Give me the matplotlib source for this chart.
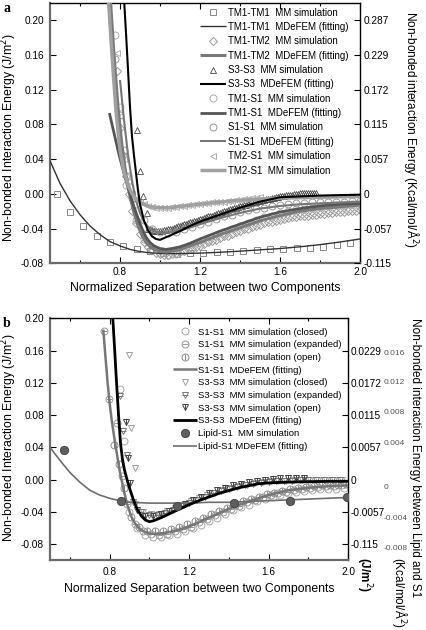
import matplotlib
matplotlib.use("Agg")
import matplotlib.pyplot as plt
from matplotlib.legend_handler import HandlerTuple
from matplotlib.ticker import FixedLocator, FuncFormatter

plt.rcParams['font.family'] = ['Liberation Sans', 'DejaVu Sans']

# ------------------------- DATA: panel a -------------------------
# TM1-TM1
a_tm1tm1_sim_x = [0.483, 0.55, 0.617, 0.683, 0.75, 0.817, 0.883, 0.95, 1.017, 1.083, 1.15, 1.217,
                  1.283, 1.35, 1.417, 1.483, 1.55, 1.617, 1.683, 1.75, 1.817, 1.883, 1.95]
a_tm1tm1_sim_y = [0.0, -0.0215, -0.0375, -0.049, -0.056, -0.060, -0.063, -0.066, -0.068, -0.069, -0.068,
                  -0.068, -0.067, -0.0665, -0.066, -0.065, -0.064, -0.063, -0.0625, -0.062, -0.061, -0.059, -0.057]
a_tm1tm1_fit_x = [0.45, 0.5, 0.55, 0.6, 0.65, 0.7, 0.75, 0.8, 0.85, 0.9, 0.95, 1.0, 1.05, 1.1, 1.2, 1.3,
                  1.4, 1.5, 1.6, 1.7, 1.8, 1.9, 2.0]
a_tm1tm1_fit_y = [0.038, 0.012, -0.008, -0.024, -0.037, -0.047, -0.055, -0.060, -0.064, -0.0665, -0.068,
                  -0.0685, -0.0688, -0.0688, -0.0683, -0.0673, -0.066, -0.0645, -0.063, -0.061, -0.0585, -0.0555, -0.052]

# TM1-TM2
a_tm1tm2_sim_x = [0.783, 0.80, 0.815, 0.83, 0.845,
                  0.86, 0.88, 0.90, 0.92, 0.94, 0.96, 0.98, 1.00, 1.02, 1.04, 1.06, 1.08, 1.10, 1.12, 1.14,
                  1.16, 1.18, 1.20, 1.22, 1.24, 1.26, 1.28, 1.30, 1.32, 1.34, 1.36, 1.38, 1.40, 1.42, 1.44,
                  1.46, 1.48, 1.50, 1.52, 1.54, 1.56, 1.58, 1.60, 1.62, 1.64, 1.66, 1.68, 1.70, 1.72, 1.74,
                  1.76, 1.78, 1.80, 1.82, 1.84, 1.86, 1.88, 1.90, 1.92, 1.94, 1.96, 1.98, 2.00]
a_tm1tm2_sim_y = [0.141, 0.076, 0.045, 0.020, 0.0,
                  -0.020, -0.034, -0.046, -0.055, -0.061, -0.065, -0.068, -0.069, -0.070, -0.070, -0.069,
                  -0.068, -0.067, -0.066, -0.064, -0.063, -0.061, -0.060, -0.058, -0.056, -0.054, -0.053,
                  -0.051, -0.049, -0.048, -0.046, -0.044, -0.043, -0.041, -0.040, -0.038, -0.037, -0.036,
                  -0.034, -0.033, -0.032, -0.031, -0.030, -0.029, -0.028, -0.027, -0.027, -0.026, -0.025,
                  -0.025, -0.024, -0.024, -0.023, -0.023, -0.022, -0.022, -0.021, -0.021, -0.021, -0.020,
                  -0.020, -0.020, -0.019]
a_tm1tm2_fit_x = [0.752, 0.77, 0.79, 0.81, 0.83, 0.85, 0.87, 0.89, 0.91, 0.93, 0.95, 0.97, 1.0, 1.03, 1.06,
                  1.1, 1.15, 1.2, 1.3, 1.4, 1.5, 1.6, 1.7, 1.8, 1.9, 2.0]
a_tm1tm2_fit_y = [0.224, 0.16, 0.10, 0.055, 0.022, -0.003, -0.022, -0.037, -0.048, -0.056, -0.061, -0.064,
                  -0.066, -0.067, -0.066, -0.064, -0.060, -0.056, -0.047, -0.039, -0.031, -0.025, -0.020,
                  -0.017, -0.015, -0.013]

# S3-S3
a_s3s3_sim_x = [0.887, 0.90, 0.917, 0.933,
                0.94, 0.95, 0.96, 0.97, 0.98, 0.99, 1.00, 1.01, 1.02, 1.03, 1.04, 1.05, 1.06, 1.07, 1.08,
                1.09, 1.10, 1.11, 1.12, 1.13, 1.14, 1.15, 1.16, 1.17, 1.18, 1.19, 1.20, 1.21, 1.22, 1.23,
                1.24, 1.25, 1.26, 1.27, 1.28, 1.29, 1.30, 1.31, 1.32, 1.33, 1.34, 1.35, 1.36, 1.37, 1.38,
                1.39, 1.40, 1.41, 1.42, 1.43, 1.44, 1.45, 1.46, 1.47, 1.48, 1.49, 1.50, 1.51, 1.52, 1.53,
                1.54, 1.55, 1.56, 1.57, 1.58, 1.59, 1.60, 1.61, 1.62, 1.63, 1.64, 1.65, 1.66, 1.67, 1.68,
                1.69, 1.70, 1.71, 1.72, 1.73, 1.74, 1.75, 1.76, 1.77, 1.78]
a_s3s3_sim_y = [0.073, 0.026, -0.003, -0.022,
                -0.040, -0.041, -0.042, -0.0425, -0.043, -0.043, -0.043, -0.0425, -0.042, -0.0415, -0.041,
                -0.0405, -0.040, -0.039, -0.038, -0.0375, -0.037, -0.036, -0.035, -0.0345, -0.034, -0.033,
                -0.032, -0.0315, -0.031, -0.030, -0.029, -0.0285, -0.028, -0.027, -0.026, -0.0255, -0.025,
                -0.024, -0.023, -0.0225, -0.022, -0.021, -0.020, -0.0195, -0.019, -0.018, -0.017, -0.0165,
                -0.016, -0.015, -0.014, -0.0135, -0.013, -0.0125, -0.012, -0.011, -0.010, -0.0095, -0.009,
                -0.0085, -0.008, -0.0075, -0.007, -0.0065, -0.006, -0.0055, -0.005, -0.0045, -0.004,
                -0.0035, -0.003, -0.0025, -0.002, -0.0018, -0.0015, -0.0012, -0.001, -0.0005, 0.0, 0.0003,
                0.0005, 0.0008, 0.001, 0.001, 0.001, 0.0012, 0.0015, 0.0015, 0.0015]
a_s3s3_fit_x = [0.82, 0.83, 0.84, 0.85, 0.86, 0.87, 0.88, 0.89, 0.90, 0.92, 0.94, 0.96, 0.98, 1.0, 1.05, 1.1,
                1.15, 1.2, 1.3, 1.4, 1.5, 1.6, 1.7, 1.8, 1.9, 2.0]
a_s3s3_fit_y = [0.225, 0.185, 0.143, 0.100, 0.066, 0.044, 0.024, 0.004, -0.012, -0.031, -0.042, -0.049,
                -0.052, -0.053, -0.048, -0.043, -0.037, -0.032, -0.024, -0.016, -0.009, -0.004, -0.003,
                -0.002, -0.0015, -0.001]

# TM1-S1
a_tm1s1_sim_x = [0.775, 0.80, 0.81, 0.83,
                 0.88, 0.92, 0.96, 1.00, 1.04, 1.08, 1.12, 1.16, 1.20, 1.24, 1.28, 1.32, 1.36, 1.40, 1.44,
                 1.48, 1.52, 1.56, 1.60, 1.64, 1.68, 1.72, 1.76, 1.80, 1.84, 1.88, 1.92, 1.96, 2.00]
a_tm1s1_sim_y = [0.183, 0.100, 0.043, 0.010,
                 -0.030, -0.052, -0.063, -0.068, -0.070, -0.069, -0.066, -0.062, -0.057, -0.053, -0.049,
                 -0.045, -0.041, -0.037, -0.034, -0.030, -0.027, -0.025, -0.022, -0.020, -0.018, -0.017,
                 -0.016, -0.015, -0.014, -0.013, -0.013, -0.012, -0.012]
a_tm1s1_fit_x = [0.747, 0.77, 0.79, 0.81, 0.83, 0.85, 0.87, 0.89, 0.91, 0.93, 0.95, 0.97, 1.0, 1.03, 1.06,
                 1.1, 1.15, 1.2, 1.3, 1.4, 1.5, 1.6, 1.7, 1.8, 1.9, 2.0]
a_tm1s1_fit_y = [0.093, 0.070, 0.050, 0.032, 0.015, 0.0, -0.015, -0.028, -0.040, -0.050, -0.056, -0.060,
                 -0.063, -0.064, -0.063, -0.061, -0.057, -0.052, -0.043, -0.035, -0.027, -0.021, -0.017,
                 -0.014, -0.012, -0.011]

# S1-S1
a_s1s1_sim_x = [0.775, 0.80, 0.82, 0.84, 0.86,
                0.88, 0.92, 0.96, 1.00, 1.04, 1.08, 1.12, 1.16, 1.20, 1.24, 1.28, 1.32, 1.36, 1.40, 1.44,
                1.48, 1.52, 1.56, 1.60, 1.64, 1.68, 1.72, 1.76, 1.80, 1.84, 1.88, 1.92, 1.96, 2.00]
a_s1s1_sim_y = [0.155, 0.091, 0.050, 0.020, -0.005,
                -0.012, -0.030, -0.040, -0.044, -0.045, -0.044, -0.041, -0.038, -0.035, -0.032, -0.029,
                -0.026, -0.024, -0.021, -0.019, -0.017, -0.016, -0.014, -0.013, -0.012, -0.011, -0.011,
                -0.010, -0.010, -0.009, -0.009, -0.009, -0.008, -0.008]
a_s1s1_fit_x = [0.80, 0.82, 0.84, 0.86, 0.88, 0.90, 0.92, 0.94, 0.97, 1.0, 1.03, 1.06, 1.1, 1.15, 1.2, 1.3,
                1.4, 1.5, 1.6, 1.7, 1.8, 1.9, 2.0]
a_s1s1_fit_y = [0.131, 0.085, 0.045, 0.015, -0.008, -0.022, -0.032, -0.038, -0.043, -0.045, -0.045, -0.044,
                -0.042, -0.039, -0.035, -0.028, -0.022, -0.017, -0.014, -0.012, -0.011, -0.010, -0.009]

# TM2-S1
a_tm2s1_sim_x = [0.783, 0.80, 0.82, 0.84, 0.86,
                 0.88, 0.90, 0.92, 0.94, 0.96, 0.98, 1.00, 1.02, 1.04, 1.06, 1.08, 1.10, 1.12, 1.14, 1.16,
                 1.18, 1.20, 1.22, 1.24, 1.26, 1.28, 1.30, 1.32, 1.34, 1.36, 1.38, 1.40, 1.42, 1.44, 1.46,
                 1.48, 1.50]
a_tm2s1_sim_y = [0.162, 0.090, 0.040, 0.015, 0.0,
                 -0.006, -0.010, -0.012, -0.014, -0.015, -0.016, -0.016, -0.016, -0.016, -0.015, -0.015,
                 -0.014, -0.014, -0.013, -0.013, -0.012, -0.012, -0.011, -0.011, -0.010, -0.010, -0.009,
                 -0.009, -0.008, -0.008, -0.007, -0.007, -0.006, -0.006, -0.005, -0.005, -0.004]
a_tm2s1_fit_x = [0.742, 0.76, 0.78, 0.80, 0.82, 0.84, 0.86, 0.88, 0.90, 0.95, 1.0, 1.05, 1.1, 1.2, 1.3, 1.4,
                 1.5, 1.6, 1.7, 1.8, 1.9, 2.0]
a_tm2s1_fit_y = [0.224, 0.16, 0.095, 0.050, 0.025, 0.010, 0.0, -0.006, -0.010, -0.015, -0.016, -0.016,
                 -0.0145, -0.012, -0.0095, -0.0075, -0.006, -0.005, -0.0045, -0.004, -0.0035, -0.003]

a_left_ticks = [-0.08, -0.04, 0.00, 0.04, 0.08, 0.12, 0.16, 0.20]
a_right_labels = ['-0.115', '-0.057', '0', '0.057', '0.115', '0.172', '0.229', '0.287']

# ------------------------- DATA: panel b -------------------------
b_s1_closed_x = [0.853, 0.874,
                 0.90, 0.94, 0.98, 1.02, 1.06, 1.10, 1.14, 1.18, 1.22, 1.26, 1.30, 1.34, 1.38, 1.42, 1.46,
                 1.50, 1.54, 1.58, 1.62, 1.66, 1.70, 1.74, 1.78, 1.82, 1.86, 1.90, 1.94, 1.98]
b_s1_closed_y = [0.113, 0.048,
                 -0.040, -0.060, -0.068, -0.071, -0.071, -0.069, -0.067, -0.064, -0.060, -0.056, -0.051,
                 -0.047, -0.042, -0.038, -0.034, -0.031, -0.027, -0.024, -0.022, -0.019, -0.017, -0.015,
                 -0.014, -0.013, -0.012, -0.011, -0.011, -0.010]
b_s1_expanded_x = [0.772, 0.797, 0.839, 0.86,
                   0.89, 0.93, 0.97, 1.01, 1.05, 1.09, 1.13, 1.17, 1.21, 1.25, 1.29, 1.33, 1.37, 1.41, 1.45,
                   1.49, 1.53, 1.57, 1.61, 1.65, 1.69, 1.73, 1.77, 1.81, 1.85, 1.89, 1.93, 1.97]
b_s1_expanded_y = [0.184, 0.100, 0.070, 0.005,
                   -0.030, -0.055, -0.064, -0.067, -0.068, -0.067, -0.064, -0.061, -0.058, -0.053, -0.049,
                   -0.044, -0.040, -0.036, -0.032, -0.028, -0.025, -0.022, -0.019, -0.017, -0.015, -0.013,
                   -0.011, -0.010, -0.009, -0.008, -0.008, -0.007]
b_s1_open_x = [0.822, 0.845, 0.87,
               0.91, 0.95, 0.99, 1.03, 1.07, 1.11, 1.15, 1.19, 1.23, 1.27, 1.31, 1.35, 1.39, 1.43, 1.47,
               1.51, 1.55, 1.59, 1.63, 1.67, 1.71, 1.75, 1.79, 1.83, 1.87, 1.91, 1.95, 1.99]
b_s1_open_y = [0.043, 0.020, -0.010,
               -0.046, -0.058, -0.063, -0.064, -0.063, -0.061, -0.058, -0.055, -0.051, -0.047, -0.043,
               -0.039, -0.035, -0.031, -0.027, -0.024, -0.021, -0.018, -0.016, -0.014, -0.012, -0.010,
               -0.009, -0.008, -0.007, -0.006, -0.006, -0.005]
b_s1_fit_x = [0.768, 0.78, 0.79, 0.80, 0.81, 0.82, 0.83, 0.84, 0.85, 0.87, 0.89, 0.91, 0.93, 0.95, 0.98,
              1.01, 1.05, 1.1, 1.15, 1.2, 1.3, 1.4, 1.5, 1.6, 1.7, 1.8, 1.9, 2.0]
b_s1_fit_y = [0.186, 0.150, 0.120, 0.095, 0.075, 0.058, 0.042, 0.027, 0.012, -0.012, -0.032, -0.046,
              -0.055, -0.061, -0.065, -0.067, -0.067, -0.065, -0.062, -0.058, -0.047, -0.036, -0.027,
              -0.019, -0.013, -0.010, -0.008, -0.007]

b_s3_closed_x = [0.899, 0.906, 0.928,
                 0.93, 0.97, 1.01, 1.05, 1.09, 1.13, 1.17, 1.21, 1.25, 1.29, 1.33, 1.37, 1.41, 1.45, 1.49,
                 1.53, 1.57, 1.61, 1.65, 1.69, 1.73, 1.77, 1.81, 1.85, 1.89, 1.93, 1.97]
b_s3_closed_y = [0.154, 0.064, 0.0145,
                 -0.030, -0.040, -0.043, -0.042, -0.039, -0.035, -0.031, -0.027, -0.023, -0.019, -0.016,
                 -0.013, -0.010, -0.008, -0.006, -0.004, -0.003, -0.002, -0.001, -0.001, 0.0, 0.0, 0.0,
                 0.0, 0.0, 0.0, 0.0]
b_s3_expanded_x = [0.850, 0.869, 0.89,
                   0.92, 0.96, 1.00, 1.04, 1.08, 1.12, 1.16, 1.20, 1.24, 1.28, 1.32, 1.36, 1.40, 1.44,
                   1.48, 1.52, 1.56, 1.60, 1.64, 1.68, 1.72, 1.76, 1.80, 1.84, 1.88, 1.92, 1.96]
b_s3_expanded_y = [0.104, 0.060, 0.030,
                   -0.028, -0.040, -0.044, -0.044, -0.041, -0.037, -0.033, -0.029, -0.025, -0.021, -0.017,
                   -0.014, -0.011, -0.009, -0.007, -0.005, -0.004, -0.003, -0.002, -0.001, -0.001, 0.0,
                   0.0, 0.0, 0.0, 0.0, 0.0]
b_s3_open_x = [0.882, 0.894, 0.903,
               0.94, 0.98, 1.02, 1.06, 1.10, 1.14, 1.18, 1.22, 1.26, 1.30, 1.34, 1.38, 1.42, 1.46, 1.50,
               1.54, 1.58, 1.62, 1.66, 1.70, 1.74, 1.78]
b_s3_open_y = [0.072, 0.027, -0.004,
               -0.038, -0.045, -0.045, -0.043, -0.039, -0.034, -0.030, -0.025, -0.021, -0.017, -0.013,
               -0.010, -0.007, -0.005, -0.003, -0.001, 0.0, 0.001, 0.002, 0.002, 0.002, 0.002]
b_s3_fit_x = [0.815, 0.825, 0.835, 0.845, 0.855, 0.865, 0.875, 0.89, 0.905, 0.92, 0.94, 0.96, 0.98, 1.0,
              1.02, 1.06, 1.12, 1.2, 1.26, 1.35, 1.45, 1.55, 1.6, 1.7, 1.8, 1.9, 2.0]
b_s3_fit_y = [0.205, 0.163, 0.120, 0.080, 0.045, 0.025, 0.012, -0.002, -0.014, -0.025, -0.037, -0.045,
              -0.050, -0.052, -0.051, -0.047, -0.040, -0.031, -0.025, -0.017, -0.010, -0.005, -0.004,
              -0.003, -0.0025, -0.002, -0.002]

b_lipid_sim_x = [0.57, 0.855, 1.14, 1.425, 1.71, 1.995]
b_lipid_sim_y = [0.037, -0.027, -0.033, -0.029, -0.026, -0.0215]
b_lipid_fit_x = [0.5, 0.55, 0.6, 0.65, 0.7, 0.75, 0.8, 0.85, 0.9, 1.0, 1.1, 1.2, 1.3, 1.4, 1.5, 1.6, 1.7,
                 1.8, 1.9, 2.0]
b_lipid_fit_y = [0.040, 0.024, 0.009, -0.003, -0.013, -0.019, -0.023, -0.026, -0.028, -0.029, -0.029,
                 -0.029, -0.028, -0.028, -0.027, -0.026, -0.025, -0.024, -0.023, -0.022]

b_left_ticks = [-0.08, -0.04, 0.00, 0.04, 0.08, 0.12, 0.16, 0.20]
b_right_ticks = [-0.08, -0.04, 0.00, 0.04, 0.08, 0.12, 0.16]
b_right_labels = ['-0.115', '-0.0057', '0', '0.0057', '0.0115', '0.0172', '0.0229']
b_third_ticks = [-0.0839, -0.0463, -0.0087, 0.0467, 0.0847, 0.1219, 0.1575]
b_third_labels = ['-0.008', '-0.004', '0', '0.004', '0.008', '0.012', '0.016']

# ------------------------- FIGURE -------------------------
W, H = 426, 630
fig = plt.figure(figsize=(W / 100, H / 100), dpi=100)

def box(l, r, t, b):
    return [l / W, 1 - b / H, (r - l) / W, (b - t) / H]

axA = fig.add_axes(box(50, 360, 2.7, 263.3))
axB = fig.add_axes(box(50, 348, 318.3, 560.4))

MS = 5.0
MEW = 0.7
TICK_FS = 7.3

def style_axes(ax, xlim, ylim, yticks, xpad, xlabelpad):
    ax.set_xlim(*xlim)
    ax.set_ylim(*ylim)
    ax.xaxis.set_major_locator(FixedLocator([0.8, 1.2, 1.6, 2.0]))
    ax.xaxis.set_minor_locator(FixedLocator([0.6, 1.0, 1.4, 1.8]))
    ax.xaxis.set_major_formatter(FuncFormatter(lambda v, p: '%.1f' % v))
    ax.yaxis.set_major_locator(FixedLocator(yticks))
    ax.yaxis.set_major_formatter(FuncFormatter(lambda v, p: '%.2f' % v))
    ax.tick_params(axis='both', which='major', direction='in', length=4, width=0.8, labelsize=TICK_FS,
                   top=True, right=False)
    ax.tick_params(axis='x', which='minor', direction='in', length=2.5, width=0.8, top=True)
    ax.tick_params(axis='x', which='major', pad=xpad)
    ax.tick_params(axis='y', pad=4.3)
    for s in ['left', 'bottom']:
        ax.spines[s].set_color('#6a6a6a')
        ax.spines[s].set_linewidth(1.6)
    for s in ['top', 'right']:
        ax.spines[s].set_color('black')
        ax.spines[s].set_linewidth(1.0)
    ax.set_xlabel('Normalized Separation between two Components', fontsize=8.8, labelpad=xlabelpad)

style_axes(axA, (0.45, 2.0), (-0.08, 0.22), a_left_ticks, 3, 3)
style_axes(axB, (0.5, 2.0), (-0.10, 0.20), b_left_ticks, 4.5, 4.5)

fig.text(9 / W, 1 - 138 / H, 'Non-bonded Interaction Energy (J/m$^2$)', rotation=90,
         ha='center', va='center', fontsize=8.8)
fig.text(9 / W, 1 - 438 / H, 'Non-bonded Interaction Energy (J/m$^2$)', rotation=90,
         ha='center', va='center', fontsize=8.8)

def sim(ax, x, y, marker, color, ms=MS, mew=MEW, z=2):
    return ax.plot(x, y, ls='none', marker=marker, mfc='none', mec=color, ms=ms, mew=mew, zorder=z)[0]

def fit(ax, x, y, color, lw, z=3):
    return ax.plot(x, y, color=color, lw=lw, zorder=z, solid_capstyle='butt')[0]

# ---- panel a ----
h = []
h.append(sim(axA, a_tm1tm1_sim_x, a_tm1tm1_sim_y, 's', '#8a8a8a'))
h.append(fit(axA, a_tm1tm1_fit_x, a_tm1tm1_fit_y, '#333333', 1.0))
h.append(sim(axA, a_tm1tm2_sim_x, a_tm1tm2_sim_y, 'D', '#9a9a9a', ms=4.2))
h.append(fit(axA, a_tm1tm2_fit_x, a_tm1tm2_fit_y, '#7a7a7a', 2.2))
h.append(sim(axA, a_s3s3_sim_x, a_s3s3_sim_y, '^', '#4a4a4a', mew=0.6))
h.append(fit(axA, a_s3s3_fit_x, a_s3s3_fit_y, 'black', 1.5, z=4))
h.append(sim(axA, a_tm1s1_sim_x, a_tm1s1_sim_y, 'o', '#aaaaaa'))
h.append(fit(axA, a_tm1s1_fit_x, a_tm1s1_fit_y, '#555555', 2.0))
h.append(sim(axA, a_s1s1_sim_x, a_s1s1_sim_y, 'o', '#999999'))
h.append(fit(axA, a_s1s1_fit_x, a_s1s1_fit_y, '#777777', 1.5))
h.append(sim(axA, a_tm2s1_sim_x, a_tm2s1_sim_y, '<', '#b0b0b0'))
h.append(fit(axA, a_tm2s1_fit_x, a_tm2s1_fit_y, '#a0a0a0', 2.5))
labels_a = ['TM1-TM1  MM simulation', 'TM1-TM1  MDeFEM (fitting)',
            'TM1-TM2  MM simulation', 'TM1-TM2  MDeFEM (fitting)',
            'S3-S3  MM simulation', 'S3-S3  MDeFEM (fitting)',
            'TM1-S1  MM simulation', 'TM1-S1  MDeFEM (fitting)',
            'S1-S1  MM simulation', 'S1-S1  MDeFEM (fitting)',
            'TM2-S1  MM simulation', 'TM2-S1  MM simulation']
axA.legend(h, labels_a, loc='upper left', bbox_to_anchor=(200 / W, 1 - 7.5 / H),
           bbox_transform=fig.transFigure, frameon=False, fontsize=7.0, handlelength=2.7,
           handletextpad=0.2, labelspacing=0.45, borderpad=0, borderaxespad=0)

axA2 = axA.twinx()
axA2.set_ylim(axA.get_ylim())
axA2.yaxis.set_major_locator(FixedLocator(a_left_ticks))
axA2.set_yticklabels(a_right_labels)
axA2.tick_params(axis='y', direction='in', length=4, width=0.8, labelsize=TICK_FS, pad=2.5)
for s in axA2.spines.values():
    s.set_visible(False)

fig.text(412 / W, 1 - 129 / H, 'Non-bonded interaction Energy (Kcal/mol/Å$^2$)', rotation=270,
         ha='center', va='center', fontsize=8.5)
fig.text(3 / W, 1 - 2 / H, 'a', fontsize=10, fontweight='bold', family='Liberation Serif', va='top', ha='left')

# ---- panel b ----
def sim_combo(ax, x, y, base, extra, color, ms=MS):
    p1 = sim(ax, x, y, base, color, ms=ms)
    p2 = sim(ax, x, y, extra, color, ms=ms)
    return (p1, p2)

hb = []
hb.append(sim(axB, b_s1_closed_x, b_s1_closed_y, 'o', '#a8a8a8'))
hb.append(sim_combo(axB, b_s1_expanded_x, b_s1_expanded_y, 'o', '_', '#999999'))
hb.append(sim_combo(axB, b_s1_open_x, b_s1_open_y, 'o', '|', '#8c8c8c'))
hb.append(fit(axB, b_s1_fit_x, b_s1_fit_y, '#777777', 1.8))
hb.append(sim(axB, b_s3_closed_x, b_s3_closed_y, 'v', '#a0a0a0'))
hb.append(sim_combo(axB, b_s3_expanded_x, b_s3_expanded_y, 'v', '_', '#777777'))
hb.append(sim_combo(axB, b_s3_open_x, b_s3_open_y, 'v', '|', '#444444'))
hb.append(fit(axB, b_s3_fit_x, b_s3_fit_y, 'black', 2.0, z=4))
lip = axB.plot(b_lipid_sim_x, b_lipid_sim_y, ls='none', marker='o', mfc='#5e5e5e', mec='#404040',
               ms=6, mew=0.6, zorder=5)[0]
hb.append(lip)
hb.append(fit(axB, b_lipid_fit_x, b_lipid_fit_y, '#6e6e6e', 1.2))
labels_b = ['S1-S1  MM simulation (closed)', 'S1-S1  MM simulation (expanded)',
            'S1-S1  MM simulation (open)', 'S1-S1  MDeFEM (fitting)',
            'S3-S3  MM simulation (closed)', 'S3-S3  MM simulation (expanded)',
            'S3-S3  MM simulation (open)', 'S3-S3  MDeFEM (fitting)',
            'Lipid-S1  MM simulation', 'Lipid-S1 MDeFEM (fitting)']
axB.legend(hb, labels_b, loc='upper left', bbox_to_anchor=(173 / W, 1 - 327.7 / H),
           bbox_transform=fig.transFigure, frameon=False, fontsize=6.8, handlelength=2.5,
           handletextpad=0.2, labelspacing=0.39, borderpad=0, borderaxespad=0,
           handler_map={tuple: HandlerTuple(ndivide=1)})

axB2 = axB.twinx()
axB2.set_ylim(axB.get_ylim())
axB2.yaxis.set_major_locator(FixedLocator(b_right_ticks))
axB2.set_yticklabels(b_right_labels)
axB2.tick_params(axis='y', direction='in', length=4, width=0.8, labelsize=TICK_FS, pad=2.0)
for s in axB2.spines.values():
    s.set_visible(False)

axB3 = axB.twinx()
axB3.set_ylim(axB.get_ylim())
axB3.yaxis.set_major_locator(FixedLocator(b_third_ticks))
axB3.set_yticklabels(b_third_labels)
axB3.tick_params(axis='y', direction='in', length=0, labelsize=6.0, pad=26, labelcolor='#555555')
for s in axB3.spines.values():
    s.set_visible(False)

fig.text(415 / W, 1 - 318 / H, 'Non-bonded interaction Energy between Lipid and S1', rotation=270,
         ha='center', va='top', fontsize=8.5)
fig.text(364 / W, 1 - 575 / H, '(J/m$^2$)', rotation=270, ha='center', va='center', fontsize=8.5,
         fontweight='bold')
fig.text(399 / W, 1 - 628 / H, '(Kcal/mol/Å$^2$)', rotation=270, ha='center', va='bottom', fontsize=8.5)
fig.text(3 / W, 1 - 317 / H, 'b', fontsize=10, fontweight='bold', family='Liberation Serif', va='top', ha='left')

fig.savefig('out.png', dpi=100)
